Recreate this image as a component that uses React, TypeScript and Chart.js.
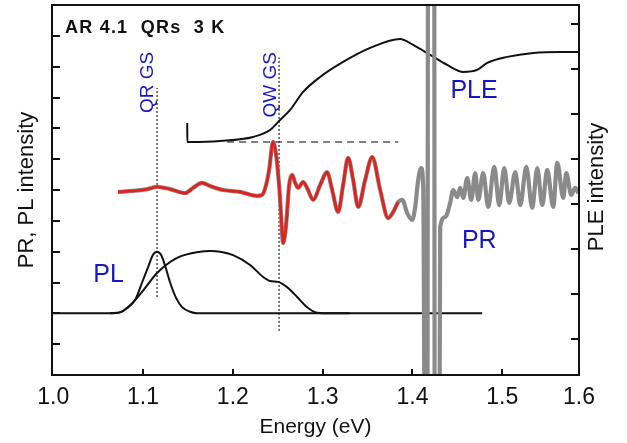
import React, { useEffect, useRef } from 'react';
import { Chart, registerables } from 'chart.js';

Chart.register(...registerables);

const FONT = '"Liberation Sans", Arial, Helvetica, sans-serif';
const BLUE = '#1616c8';
const RED = '#e3211c';
const GRAY = '#8a8a8a';
const INK = '#111111';

// ---- axes ----
const xMin = 0.9986;
const xMax = 1.5855;
const xTickValues = [1.0, 1.1, 1.2, 1.3, 1.4, 1.5, 1.5855];
const xTickLabels = ['1.0', '1.1', '1.2', '1.3', '1.4', '1.5', '1.6'];
const leftMin = 0;
const leftMax = 12;
const leftTickValues = [1, 2, 3, 4, 5, 6, 7, 8, 9, 10, 11];
const rightMin = -0.8;
const rightMax = 7.42;
const rightTickValues = [0, 1, 2, 3, 4, 5, 6, 7];

// ---- PL (QR narrow peak) ----
const plQrEnergy = [0.9986, 1.0632, 1.0746, 1.0833, 1.0911, 1.0989, 1.1056, 1.1111, 1.1156, 1.12, 1.1245, 1.1301, 1.1368, 1.1435, 1.1524, 1.1602, 1.25, 1.35, 1.4777];
const plQrSignal = [2.0, 2.0, 2.03, 2.2, 2.43, 3.0, 3.5, 3.9, 4.0, 3.9, 3.55, 3.0, 2.5, 2.2, 2.05, 2.0, 2.0, 2.0, 2.0];

// ---- PL (broad) ----
const plBroadEnergy = [1.0632, 1.0746, 1.0833, 1.0911, 1.1022, 1.1156, 1.1379, 1.1635, 1.1746, 1.1858, 1.2003, 1.2192, 1.2337, 1.2415, 1.2504, 1.2604, 1.2716, 1.2827, 1.2939, 1.3084, 1.33];
const plBroadSignal = [2.0, 2.04, 2.2, 2.43, 2.82, 3.31, 3.8, 4.0, 4.02, 4.0, 3.89, 3.57, 3.18, 3.05, 3.02, 2.85, 2.53, 2.2, 2.02, 2.0, 2.0];

// ---- PLE (right axis) ----
const pleEnergy = [1.1492, 1.1493, 1.1526, 1.1858, 1.2226, 1.2415, 1.2504, 1.2638, 1.2783, 1.2972, 1.3228, 1.3529, 1.3863, 1.4008, 1.4198, 1.4387, 1.4565, 1.4721, 1.4833, 1.5056, 1.5346, 1.5647, 1.5855];
const pleSignal = [4.8, 4.378, 4.378, 4.4, 4.489, 4.644, 4.822, 5.089, 5.489, 5.822, 6.156, 6.467, 6.667, 6.533, 6.311, 6.089, 5.933, 5.978, 6.133, 6.267, 6.356, 6.378, 6.378];

// ---- PR (measured, gray) ----
const prEnergy = [
  1.0721, 1.0889, 1.105, 1.1156, 1.1301, 1.1468, 1.1557, 1.1657, 1.1747, 1.1891, 1.2081, 1.227, 1.2326, 1.237, 1.2404,
  1.2448, 1.2482, 1.2515, 1.2537, 1.256, 1.2593, 1.2627, 1.266, 1.2694, 1.2727, 1.2783, 1.2827, 1.2894, 1.2972, 1.305,
  1.3106, 1.3173, 1.3228, 1.3284, 1.334, 1.3396, 1.3473, 1.3552, 1.3641, 1.373, 1.3786, 1.3841,
  1.3886, 1.3942, 1.3997, 1.4031, 1.4064, 1.4098, 1.412, 1.4159, 1.4181, 1.4237, 1.4254, 1.4281, 1.4309,
  1.4365, 1.442, 1.4454, 1.4499, 1.4532, 1.4566, 1.461, 1.4655, 1.4699, 1.4733, 1.4788, 1.4844, 1.4911, 1.4967,
  1.5022, 1.5078, 1.5145, 1.5201, 1.5268, 1.5334, 1.539, 1.5446, 1.5501, 1.5568, 1.5613, 1.568, 1.5713, 1.5769,
  1.5813, 1.5847,
];
const prSignal = [
  5.94, 5.97, 6.03, 6.1, 6.03, 5.9, 6.07, 6.23, 6.13, 6.0, 5.94, 5.81, 5.84, 6.16, 6.65,
  7.56, 7.14, 6.16, 5.19, 4.28, 4.87, 6.16, 6.49, 6.23, 6.07, 6.26, 6.07, 5.68, 6.16, 6.58,
  6.0, 5.29, 6.16, 7.04, 6.32, 5.45, 6.32, 7.07, 6.0, 5.09, 5.29, 5.61,
  5.68, 5.25, 5.03, 5.45, 6.32, 6.71, 6.1, -20, 30, 30, -20, -20, 4.8,
  5.12, 5.58, 6.0, 5.77, 6.07, 5.74, 6.39, 5.68, 6.55, 5.68, 6.55, 5.45, 6.75, 5.51,
  6.71, 5.58, 6.58, 5.51, 6.75, 5.42, 6.71, 5.51, 6.65, 5.45, 6.88, 5.74, 6.55, 5.84,
  6.07, 5.9,
];
// ---- PR fit (red) covers the measured range up to this energy ----
const prFitEnd = 1.3841;

// ---- markers ----
const qrGsEnergy = 1.1156;
const qrGsRange = [2.53, 9.31];
const qwGsEnergy = 1.2515;
const qwGsRange = [1.43, 10.3];
const pleBaseRange = [1.1936, 1.3841];
const pleBaseLevel = 4.378;

const xy = (xs: number[], ys: number[]) => xs.map((x, i) => ({ x, y: ys[i] }));

const framePlugin = {
  id: 'frameTicks',
  afterDatasetsDraw(chart: any) {
    const { ctx, chartArea: a, scales } = chart;
    ctx.save();
    ctx.strokeStyle = INK;
    ctx.lineWidth = 2;
    ctx.strokeRect(a.left, a.top, a.right - a.left, a.bottom - a.top);
    ctx.beginPath();
    for (const v of xTickValues.slice(1, -1)) {
      const px = Math.round(scales.x.getPixelForValue(v));
      ctx.moveTo(px, a.bottom);
      ctx.lineTo(px, a.bottom - 6);
    }
    for (const v of leftTickValues) {
      const py = Math.round(scales.y.getPixelForValue(v));
      ctx.moveTo(a.left, py);
      ctx.lineTo(a.left + 8, py);
    }
    for (const v of rightTickValues) {
      const py = Math.round(scales.y2.getPixelForValue(v));
      ctx.moveTo(a.right, py);
      ctx.lineTo(a.right - 8, py);
    }
    ctx.stroke();
    ctx.restore();
  },
};

const textPlugin = {
  id: 'labels',
  afterDraw(chart: any) {
    const { ctx, chartArea: a, scales } = chart;
    const X = (v: number) => scales.x.getPixelForValue(v);
    const Y = (v: number) => scales.y.getPixelForValue(v);
    ctx.save();
    ctx.textBaseline = 'alphabetic';
    ctx.textAlign = 'left';
    ctx.fillStyle = INK;
    ctx.font = `bold 18px ${FONT}`;
    (ctx as any).letterSpacing = '1.2px';
    ctx.fillText('AR 4.1  QRs  3 K', X(1.0132), Y(11.1));
    (ctx as any).letterSpacing = '0px';

    ctx.fillStyle = BLUE;
    ctx.font = `25px ${FONT}`;
    ctx.fillText('PLE', X(1.4423), Y(8.97));
    ctx.fillText('PR', X(1.4551), Y(4.11));
    ctx.fillText('PL', X(1.0446), Y(3.03));

    const vtext = (t: string, px: number, py: number, font: string, color: string) => {
      ctx.save();
      ctx.translate(px, py);
      ctx.rotate(-Math.PI / 2);
      ctx.font = font;
      ctx.fillStyle = color;
      ctx.textAlign = 'center';
      ctx.textBaseline = 'alphabetic';
      ctx.fillText(t, 0, 0);
      ctx.restore();
    };
    vtext('QR GS', X(1.1115), Y(9.49), `19px ${FONT}`, BLUE);
    vtext('QW GS', X(1.2482), Y(9.41), `19px ${FONT}`, BLUE);
    vtext('PLE intensity', a.right + 24, (a.top + a.bottom) / 2 - 3, `22px ${FONT}`, INK);
    ctx.restore();
  },
};

export default function App() {
  const ref = useRef<HTMLCanvasElement | null>(null);
  useEffect(() => {
    document.body.style.margin = '0';
    const canvas = ref.current;
    if (!canvas) return;
    const fitStart = prEnergy.findIndex((e) => e > prFitEnd + 1e-9);
    const chart = new Chart(canvas, {
      type: 'line',
      data: {
        datasets: [
          {
            label: 'PR fit',
            data: xy(prEnergy.slice(0, fitStart), prSignal.slice(0, fitStart)),
            borderColor: RED,
            borderWidth: 2.8,
            yAxisID: 'y',
            order: 0,
            cubicInterpolationMode: 'monotone',
          },
          {
            label: 'PR',
            data: xy(prEnergy, prSignal),
            borderColor: GRAY,
            borderWidth: 4.2,
            yAxisID: 'y',
            order: 1,
            clip: 0,
            cubicInterpolationMode: 'monotone',
          },
          {
            label: 'PLE',
            data: xy(pleEnergy, pleSignal),
            borderColor: INK,
            borderWidth: 2,
            yAxisID: 'y2',
            order: 2,
            cubicInterpolationMode: 'monotone',
          },
          {
            label: 'PL QR',
            data: xy(plQrEnergy, plQrSignal),
            borderColor: INK,
            borderWidth: 2,
            yAxisID: 'y',
            order: 3,
            cubicInterpolationMode: 'monotone',
          },
          {
            label: 'PL broad',
            data: xy(plBroadEnergy, plBroadSignal),
            borderColor: INK,
            borderWidth: 2,
            yAxisID: 'y',
            order: 4,
            cubicInterpolationMode: 'monotone',
          },
          {
            label: 'QR GS',
            data: xy([qrGsEnergy, qrGsEnergy], qrGsRange),
            borderColor: '#333',
            borderWidth: 1.3,
            borderDash: [2, 2],
            yAxisID: 'y',
            order: 5,
          },
          {
            label: 'QW GS',
            data: xy([qwGsEnergy, qwGsEnergy], qwGsRange),
            borderColor: '#333',
            borderWidth: 1.3,
            borderDash: [2, 2],
            yAxisID: 'y',
            order: 6,
          },
          {
            label: 'PLE base',
            data: xy(pleBaseRange, [pleBaseLevel, pleBaseLevel]),
            borderColor: '#555',
            borderWidth: 1.5,
            borderDash: [7, 5],
            yAxisID: 'y2',
            order: 7,
          },
        ],
      },
      options: {
        animation: false,
        responsive: false,
        maintainAspectRatio: false,
        layout: { padding: { top: 5, left: 0, right: 0, bottom: 0 } },
        elements: {
          point: { radius: 0, hoverRadius: 0 },
          line: { fill: false, borderJoinStyle: 'round', borderCapStyle: 'butt' },
        },
        plugins: { legend: { display: false }, tooltip: { enabled: false } },
        scales: {
          x: {
            type: 'linear',
            min: xMin,
            max: xMax,
            afterBuildTicks: (s: any) => {
              s.ticks = xTickValues.map((value) => ({ value }));
            },
            afterFit: (s: any) => {
              s.height = 68;
            },
            grid: { display: false, drawTicks: false },
            border: { display: false },
            ticks: {
              autoSkip: false,
              maxRotation: 0,
              padding: 9,
              color: INK,
              font: { family: FONT, size: 23 },
              callback: (_v: any, i: number) => xTickLabels[i],
            },
            title: {
              display: true,
              text: 'Energy (eV)',
              color: INK,
              font: { family: FONT, size: 21 },
              padding: { top: 0, bottom: 3 },
            },
          },
          y: {
            type: 'linear',
            position: 'left',
            min: leftMin,
            max: leftMax,
            afterBuildTicks: (s: any) => {
              s.ticks = leftTickValues.map((value) => ({ value }));
            },
            afterFit: (s: any) => {
              s.width = 52;
            },
            grid: { display: false, drawTicks: false },
            border: { display: false },
            ticks: { display: false },
            title: {
              display: true,
              text: 'PR, PL intensity',
              color: INK,
              font: { family: FONT, size: 22 },
              padding: { top: 14, bottom: 0 },
            },
          },
          y2: {
            type: 'linear',
            position: 'right',
            min: rightMin,
            max: rightMax,
            afterBuildTicks: (s: any) => {
              s.ticks = rightTickValues.map((value) => ({ value }));
            },
            afterFit: (s: any) => {
              s.width = 48;
            },
            grid: { display: false, drawTicks: false },
            border: { display: false },
            ticks: { display: false },
          },
        },
      },
      plugins: [framePlugin, textPlugin],
    } as any);
    return () => chart.destroy();
  }, []);

  return (
    <div style={{ width: 627, height: 443, position: 'relative' }}>
      <canvas ref={ref} width={627} height={443} style={{ display: 'block' }} />
    </div>
  );
}
